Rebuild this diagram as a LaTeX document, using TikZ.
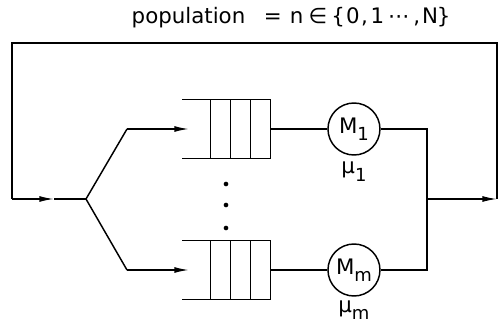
\documentclass[tikz,border=0pt]{standalone}
\usepackage{fontspec}
\setmainfont{DejaVu Sans}
\usetikzlibrary{arrows.meta}
\tikzstyle{queue} = [rectangle, minimum width=65.25pt, minimum height=43.5pt, inner sep=0pt]
\tikzstyle{srv} = [circle, draw, minimum size=39pt, inner sep=0pt]
\tikzstyle{dot} = [circle, fill, minimum size=3.5pt, inner sep=0pt]
\newcommand{\lowidx}[1]{\raisebox{-5.5pt}{\fontsize{13.5}{14}\selectfont #1}}

\begin{document}
\begin{tikzpicture}[x=0.75pt, y=0.75pt, line width=1.1pt,
    font=\fontsize{16}{18}\selectfont, >={Latex[length=11pt,width=4.5pt]}]
  \useasboundingbox (0,0) rectangle (499,325);

  \node[anchor=west, inner sep=0pt] (pop) at (131,307) {population\hspace{14pt}=\hspace{6pt}n\hspace{4pt}∈\hspace{3pt}\{\hspace{1pt}0\hspace{1pt},\hspace{2pt}1\hspace{3pt}⋯\hspace{3pt},\hspace{1.5pt}N\hspace{-1pt}\}};

  \node[queue] (q1) at (226.5,196) {};
  \node[queue] (qm) [below of=q1, node distance=105.75pt] {};
  \node[srv] (m1) [right of=q1, node distance=95.6pt] {M\lowidx{1}};
  \node[srv] (mm) [right of=qm, node distance=95.6pt] {M\lowidx{m}};
  \node (mu1) [below of=m1, node distance=32pt] {μ\lowidx{1}};
  \node (mum) [below of=mm, node distance=30pt] {μ\lowidx{m}};

  \node[dot] (d1) at (226,141) {};
  \node[dot] (d2) at (226,120) {};
  \node[dot] (d3) at (226,97) {};

  % queues, open on the left
  \draw (q1.north west) -- (q1.north east) -- (q1.south east) -- (q1.south west);
  \draw ([xshift=-15pt]q1.north east) -- ([xshift=-15pt]q1.south east);
  \draw ([xshift=-30pt]q1.north east) -- ([xshift=-30pt]q1.south east);
  \draw ([xshift=-45pt]q1.north east) -- ([xshift=-45pt]q1.south east);
  \draw (qm.north west) -- (qm.north east) -- (qm.south east) -- (qm.south west);
  \draw ([xshift=-15pt]qm.north east) -- ([xshift=-15pt]qm.south east);
  \draw ([xshift=-30pt]qm.north east) -- ([xshift=-30pt]qm.south east);
  \draw ([xshift=-45pt]qm.north east) -- ([xshift=-45pt]qm.south east);

  \coordinate (sp) at (86,126);
  \coordinate (b1) at (127,196);
  \coordinate (bm) at (127,55);
  \coordinate (in1) at ([xshift=5pt]q1.west);
  \coordinate (inm) at ([xshift=5pt]qm.west);
  \coordinate (jn) at (427,126);
  \coordinate (rc) at (497,126);
  \coordinate (tr) at (497,282);
  \coordinate (tl) at (12,282);
  \coordinate (lc) at (12,126);
  \coordinate (la) at (54,126);

  \path (q1) edge (m1);
  \path (qm) edge (mm);
  \draw (sp) -- (b1);
  \draw[->] (b1) -- (in1);
  \draw (sp) -- (bm);
  \draw[->] (bm) -- (inm);
  \draw (m1.east) -| (jn);
  \draw (mm.east) -| (jn);
  \draw[->] (jn) -- (rc);
  \draw (rc) -- (tr) -- (tl) -- (lc);
  \draw[->] (lc) -- (la);
  \draw (la) -- (sp);
\end{tikzpicture}
\end{document}
